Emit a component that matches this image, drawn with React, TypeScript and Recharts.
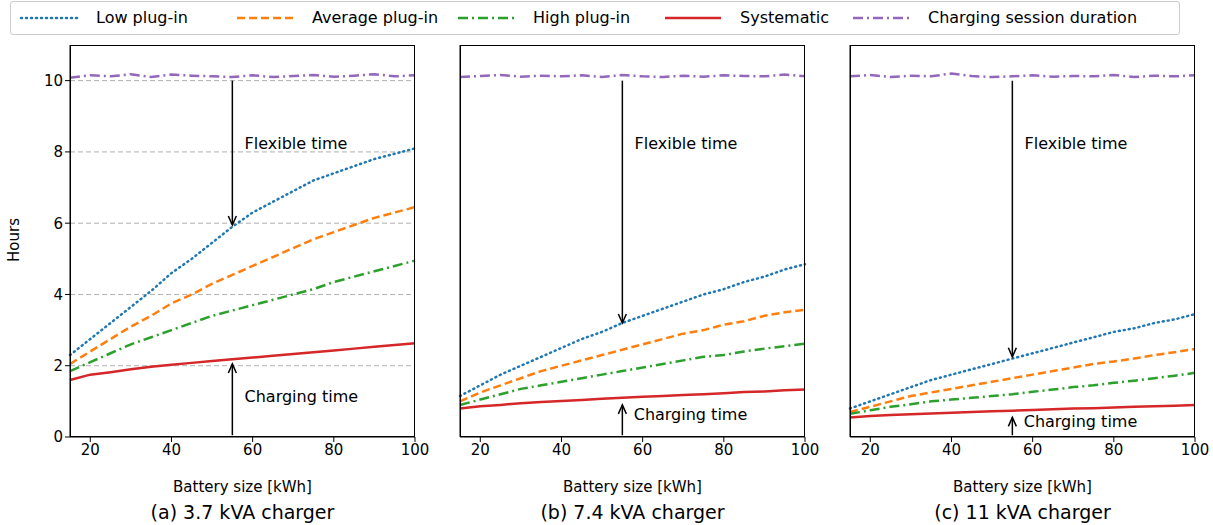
import { LineChart, Line, XAxis, YAxis, CartesianGrid, ReferenceDot } from 'recharts';

const batterySizes = [15, 20, 25, 30, 35, 40, 45, 50, 55, 60, 65, 70, 75, 80, 85, 90, 95, 100];

const duration1 = [10.08, 10.15, 10.12, 10.18, 10.1, 10.17, 10.14, 10.12, 10.1, 10.15, 10.1, 10.13, 10.16, 10.11, 10.14, 10.18, 10.12, 10.15];
const duration2 = [10.1, 10.13, 10.16, 10.11, 10.14, 10.12, 10.15, 10.1, 10.16, 10.12, 10.1, 10.14, 10.11, 10.15, 10.13, 10.12, 10.17, 10.12];
const duration3 = [10.12, 10.16, 10.1, 10.14, 10.12, 10.2, 10.13, 10.1, 10.12, 10.15, 10.11, 10.13, 10.12, 10.16, 10.1, 10.14, 10.12, 10.15];

const low1 = [2.3, 2.75, 3.2, 3.65, 4.1, 4.6, 5.0, 5.45, 5.9, 6.3, 6.6, 6.9, 7.2, 7.4, 7.6, 7.8, 7.95, 8.1];
const avg1 = [2.05, 2.4, 2.75, 3.1, 3.4, 3.75, 4.0, 4.3, 4.55, 4.8, 5.05, 5.3, 5.55, 5.75, 5.95, 6.15, 6.3, 6.45];
const high1 = [1.85, 2.1, 2.35, 2.6, 2.8, 3.0, 3.2, 3.4, 3.55, 3.7, 3.85, 4.0, 4.15, 4.35, 4.5, 4.65, 4.8, 4.95];
const sys1 = [1.6, 1.75, 1.82, 1.9, 1.97, 2.03, 2.08, 2.13, 2.18, 2.23, 2.28, 2.33, 2.38, 2.43, 2.48, 2.53, 2.58, 2.63];

const low2 = [1.15, 1.45, 1.75, 2.0, 2.25, 2.5, 2.75, 2.95, 3.2, 3.4, 3.6, 3.8, 4.0, 4.15, 4.35, 4.5, 4.7, 4.85];
const avg2 = [1.0, 1.25, 1.45, 1.65, 1.85, 2.0, 2.15, 2.3, 2.45, 2.6, 2.75, 2.9, 3.0, 3.15, 3.25, 3.4, 3.5, 3.57];
const high2 = [0.9, 1.05, 1.2, 1.35, 1.45, 1.55, 1.65, 1.75, 1.85, 1.95, 2.05, 2.15, 2.25, 2.3, 2.4, 2.48, 2.55, 2.62];
const sys2 = [0.8, 0.86, 0.9, 0.95, 0.98, 1.01, 1.04, 1.07, 1.1, 1.13, 1.15, 1.18, 1.2, 1.23, 1.26, 1.28, 1.31, 1.33];

const low3 = [0.8, 1.0, 1.2, 1.4, 1.6, 1.75, 1.9, 2.05, 2.2, 2.35, 2.5, 2.65, 2.8, 2.95, 3.05, 3.2, 3.3, 3.45];
const avg3 = [0.7, 0.85, 1.0, 1.15, 1.25, 1.35, 1.45, 1.55, 1.65, 1.75, 1.85, 1.95, 2.05, 2.12, 2.2, 2.3, 2.38, 2.47];
const high3 = [0.65, 0.75, 0.85, 0.92, 1.0, 1.05, 1.1, 1.15, 1.2, 1.27, 1.33, 1.4, 1.45, 1.52, 1.58, 1.65, 1.72, 1.8];
const sys3 = [0.55, 0.59, 0.62, 0.64, 0.66, 0.68, 0.7, 0.72, 0.74, 0.76, 0.78, 0.8, 0.81, 0.83, 0.85, 0.86, 0.88, 0.9];

const xTicks = [20, 40, 60, 80, 100];
const yTicks = [0, 2, 4, 6, 8, 10];

const panels = [
  { title: '(a) 3.7 kVA charger', low: low1, avg: avg1, high: high1, sys: sys1, dur: duration1, flexEnd: 5.95, chargeEnd: 2.05, flexText: 8.2, chargeText: 1.1, chargeTextX: 58 },
  { title: '(b) 7.4 kVA charger', low: low2, avg: avg2, high: high2, sys: sys2, dur: duration2, flexEnd: 3.2, chargeEnd: 0.9, flexText: 8.2, chargeText: 0.6, chargeTextX: 57.8 },
  { title: '(c) 11 kVA charger', low: low3, avg: avg3, high: high3, sys: sys3, dur: duration3, flexEnd: 2.25, chargeEnd: 0.55, flexText: 8.2, chargeText: 0.4, chargeTextX: 57.8 },
];

const COLORS = { low: '#1f77b4', avg: '#ff7f0e', high: '#2ca02c', sys: '#d62728', dur: '#9467bd' };
const FONT = 'DejaVu Sans';

const legendItems = [
  { name: 'Low plug-in', color: COLORS.low, dash: '1 4', cap: 'round', x: 18 },
  { name: 'Average plug-in', color: COLORS.avg, dash: '8 4', cap: 'butt', x: 234 },
  { name: 'High plug-in', color: COLORS.high, dash: '10 4 2 4', cap: 'butt', x: 455 },
  { name: 'Systematic', color: COLORS.sys, dash: undefined, cap: 'butt', x: 662 },
  { name: 'Charging session duration', color: COLORS.dur, dash: '10 4 2 4', cap: 'butt', x: 850 },
];

const plotLefts = [70, 460, 850];
const PLOT_W = 345;
const PLOT_TOP = 45;
const PLOT_H = 392;

function arrowDot(dir: 'down' | 'up') {
  return (props: any) => {
    const { cx, cy, index } = props;
    if (index !== 1) return <g key={index} />;
    const s = dir === 'down' ? -1 : 1;
    return <path key={index} d={`M${cx - 4},${cy + s * 9} L${cx},${cy} L${cx + 4},${cy + s * 9}`} fill="none" stroke="#000" strokeWidth={1.5} />;
  };
}

function Panel({ p, i }: { p: typeof panels[0]; i: number }) {
  const data = batterySizes.map((x, k) => ({ x, low: p.low[k], avg: p.avg[k], high: p.high[k], sys: p.sys[k], dur: p.dur[k] }));
  const yW = i === 0 ? 40 : 12;
  const left = plotLefts[i] - yW;
  const flexArrow = [{ x: 55, v: 10 }, { x: 55, v: p.flexEnd }];
  const chargeArrow = [{ x: 55, v: 0.05 }, { x: 55, v: p.chargeEnd }];
  return (
    <div style={{ position: 'absolute', left, top: 0 }}>
      <LineChart width={PLOT_W + yW + 16} height={525} data={data} margin={{ top: PLOT_TOP, right: 16, bottom: 58, left: 0 }}>
        <CartesianGrid vertical={false} horizontalValues={[2, 4, 6, 8, 10]} stroke="#b0b0b0" strokeDasharray="5 3" />
        <XAxis dataKey="x" type="number" domain={[15, 100]} ticks={xTicks} stroke="#000" height={30}
          tick={{ fill: '#000', fontSize: 15, fontFamily: FONT }} tickSize={5} />
        <YAxis type="number" domain={[0, 11]} ticks={yTicks} stroke="#000" width={yW} tickSize={5}
          tick={i === 0 ? { fill: '#000', fontSize: 15, fontFamily: FONT } : false} />
        <Line dataKey="dur" stroke={COLORS.dur} strokeWidth={2.5} strokeDasharray="10 4 2 4" dot={false} isAnimationActive={false} />
        <Line dataKey="low" stroke={COLORS.low} strokeWidth={2.5} strokeDasharray="1 4" strokeLinecap="round" dot={false} isAnimationActive={false} />
        <Line dataKey="avg" stroke={COLORS.avg} strokeWidth={2.5} strokeDasharray="8 4" dot={false} isAnimationActive={false} />
        <Line dataKey="high" stroke={COLORS.high} strokeWidth={2.5} strokeDasharray="10 4 2 4" dot={false} isAnimationActive={false} />
        <Line dataKey="sys" stroke={COLORS.sys} strokeWidth={2.5} dot={false} isAnimationActive={false} />
        <Line data={flexArrow} dataKey="v" stroke="#000" strokeWidth={1.5} dot={arrowDot('down')} isAnimationActive={false} legendType="none" />
        <Line data={chargeArrow} dataKey="v" stroke="#000" strokeWidth={1.5} dot={arrowDot('up')} isAnimationActive={false} legendType="none" />
        <ReferenceDot x={58} y={p.flexText} r={0} shape={(s: any) => (
          <text x={s.cx} y={s.cy} fontSize={16} fontFamily={FONT} fill="#000" dominantBaseline="middle">Flexible time</text>
        )} />
        <ReferenceDot x={p.chargeTextX} y={p.chargeText} r={0} shape={(s: any) => (
          <text x={s.cx} y={s.cy} fontSize={16} fontFamily={FONT} fill="#000" dominantBaseline="middle">Charging time</text>
        )} />
      </LineChart>
      <div style={{ position: 'absolute', left: yW, top: PLOT_TOP, width: PLOT_W, height: PLOT_H, boxSizing: 'border-box', border: '1px solid #000', pointerEvents: 'none' }} />
      <div style={{ position: 'absolute', left: yW, width: PLOT_W, top: 478, textAlign: 'center', fontFamily: FONT, fontSize: 15 }}>Battery size [kWh]</div>
      <div style={{ position: 'absolute', left: yW, width: PLOT_W, top: 501, textAlign: 'center', fontFamily: FONT, fontSize: 19 }}>{p.title}</div>
    </div>
  );
}

export default function App() {
  return (
    <div style={{ position: 'fixed', left: 0, top: 0, width: 1213, height: 525, background: '#fff', overflow: 'hidden' }}>
      {panels.map((p, i) => <Panel key={i} p={p} i={i} />)}
      <div style={{ position: 'absolute', left: 0, top: 241, width: 24, height: 0, fontFamily: FONT, fontSize: 15 }}>
        <div style={{ position: 'absolute', left: -8, top: -10, transform: 'rotate(-90deg)' }}>Hours</div>
      </div>
      <div style={{ position: 'absolute', left: 10, top: 1, width: 1168, height: 32, border: '1px solid #ccc', borderRadius: 3, background: '#fff', fontFamily: FONT, fontSize: 16 }}>
        {legendItems.map((l) => (
          <div key={l.name} style={{ position: 'absolute', left: l.x - 10, top: 6, display: 'flex', alignItems: 'center' }}>
            <svg width={60} height={10} style={{ marginRight: 17 }}>
              <line x1={2} y1={5} x2={58} y2={5} stroke={l.color} strokeWidth={2.5} strokeDasharray={l.dash} strokeLinecap={l.cap as any} />
            </svg>
            <span>{l.name}</span>
          </div>
        ))}
      </div>
    </div>
  );
}
